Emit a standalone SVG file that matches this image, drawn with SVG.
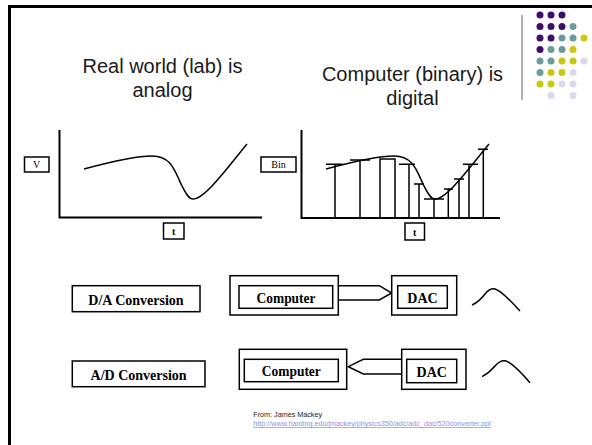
<svg xmlns="http://www.w3.org/2000/svg" width="592" height="445" viewBox="0 0 592 445">
<style>
.title{font-family:"Liberation Sans",Arial,sans-serif;font-size:20px;fill:#1a1a1a;text-anchor:middle}
.lab{font-family:"Liberation Serif","Times New Roman",serif;font-weight:bold;font-size:14px;fill:#000;text-anchor:middle}
.small{font-family:"Liberation Serif","Times New Roman",serif;font-size:10px;fill:#000;text-anchor:middle}
.box{fill:#fff;stroke:#000;stroke-width:1.5}
.ln{fill:none;stroke:#000;stroke-width:1.5}
.axis{fill:none;stroke:#000;stroke-width:2}
.p{fill:#3d0f6b}.t{fill:#6b9c9c}.y{fill:#c9c70f}.l{fill:#d9d9ec}
.cred{font-family:"Liberation Sans",Arial,sans-serif;font-size:7.2px}
</style>
<rect width="592" height="445" fill="#fff"/>
<g id="frame">
<path d="M8,6.5H592M9.5,5V445" fill="none" stroke="#000" stroke-width="3"/>
<line x1="522" y1="15" x2="522" y2="100" stroke="#999" stroke-width="1.5"/>
</g>
<g id="dots">
<circle class="p" cx="540" cy="15" r="3.5"/><circle class="p" cx="551" cy="15" r="3.5"/><circle class="p" cx="562" cy="15" r="3.5"/>
<circle class="p" cx="540" cy="26.5" r="3.5"/><circle class="p" cx="551" cy="26.5" r="3.5"/><circle class="p" cx="562" cy="26.5" r="3.5"/><circle class="t" cx="573" cy="26.5" r="3.5"/>
<circle class="p" cx="540" cy="38" r="3.5"/><circle class="p" cx="551" cy="38" r="3.5"/><circle class="t" cx="562" cy="38" r="3.5"/><circle class="t" cx="573" cy="38" r="3.5"/><circle class="y" cx="584" cy="38" r="3.5"/>
<circle class="p" cx="540" cy="49.5" r="3.5"/><circle class="t" cx="551" cy="49.5" r="3.5"/><circle class="t" cx="562" cy="49.5" r="3.5"/><circle class="y" cx="573" cy="49.5" r="3.5"/>
<circle class="t" cx="540" cy="61" r="3.5"/><circle class="t" cx="551" cy="61" r="3.5"/><circle class="y" cx="562" cy="61" r="3.5"/><circle class="y" cx="573" cy="61" r="3.5"/><circle class="l" cx="584" cy="61" r="3.5"/>
<circle class="t" cx="540" cy="72.5" r="3.5"/><circle class="y" cx="551" cy="72.5" r="3.5"/><circle class="y" cx="562" cy="72.5" r="3.5"/><circle class="l" cx="573" cy="72.5" r="3.5"/>
<circle class="y" cx="540" cy="84" r="3.5"/><circle class="y" cx="551" cy="84" r="3.5"/><circle class="l" cx="562" cy="84" r="3.5"/><circle class="l" cx="573" cy="84" r="3.5"/>
<circle class="l" cx="551" cy="95.5" r="3.5"/><circle class="l" cx="573" cy="95.5" r="3.5"/>
</g>
<g id="title-analog">
<text class="title" x="162.5" y="73">Real world (lab) is</text>
<text class="title" x="162.5" y="97">analog</text>
</g>
<g id="title-digital">
<text class="title" x="412.5" y="81">Computer (binary) is</text>
<text class="title" x="412.5" y="105">digital</text>
</g>
<g id="graph-analog">
<path class="axis" d="M59.5,130V217.5H262"/>
<path id="curve" class="ln" d="M84,169 C110,162 135,156 152,156 C172,156 175,172 182,186 C186,194 189,199 193,199 C205,199 228,167 247,144"/>
<rect class="box" x="24.5" y="157" width="24.5" height="15" stroke-width="1"/>
<text class="small" x="36.7" y="168">V</text>
<rect class="box" x="163.5" y="223" width="20.5" height="16" stroke-width="1.2"/>
<text class="small" x="173.7" y="235" font-weight="bold">t</text>
</g>
<g id="graph-digital">
<path class="axis" d="M301.5,130V218H500"/>
<path class="ln" transform="translate(242,0)" d="M84,169 C110,162 135,156 152,156 C172,156 175,172 182,186 C186,194 189,199 193,199 C205,199 228,167 247,144"/>
<path class="ln" d="M335,218V164.3M326,164.3H343 M360,218V160M350,160H370 M380,218V159H395V218 M409,218V164.3M399,164.3H415 M419,218V184M414,184H424 M434,218V199M424,199H444 M448.3,218V189M444,189H453 M459,218V179M454,179H464 M469,218V164.3M463,164.3H478 M483.3,218V149.3M478,149.3H488"/>
<rect class="box" x="261" y="157" width="35" height="15" stroke-width="1"/>
<text class="small" x="278.5" y="168">Bin</text>
<rect class="box" x="405" y="223" width="19.5" height="17" stroke-width="1.2"/>
<text class="small" x="414.7" y="235.5" font-weight="bold">t</text>
</g>
<g id="connectors">
<path class="ln" fill="#fff" d="M338.3,285.7H379.3L391.7,293L379.3,300H338.3"/>
<path class="ln" fill="#fff" d="M401.7,359.3H363.3L348.3,366.7L363.3,374H401.7"/>
</g>
<g id="da-label">
<rect class="box" x="72.3" y="285.7" width="127.7" height="26"/>
<text class="lab" x="136" y="304.5" font-size="16">D/A Conversion</text>
</g>
<g id="da-computer">
<rect class="box" x="230" y="275.7" width="108.3" height="39.3"/>
<rect class="box" x="239" y="285.7" width="93.7" height="22.6"/>
<text class="lab" x="286" y="302.5" font-size="15" textLength="59" lengthAdjust="spacingAndGlyphs">Computer</text>
</g>
<g id="da-dac">
<rect class="box" x="391.7" y="275.7" width="65" height="39.3"/>
<rect class="box" x="397.7" y="285.7" width="49.6" height="22.6"/>
<text class="lab" x="422.5" y="302.5" font-size="15">DAC</text>
<path class="ln" d="M472,305 Q479,302 485,294 Q490,288 495,289 Q502,291 520,311"/>
</g>
<g id="ad-label">
<rect class="box" x="72.3" y="361" width="132.7" height="25.7"/>
<text class="lab" x="138.6" y="380" font-size="16">A/D Conversion</text>
</g>
<g id="ad-computer">
<rect class="box" x="239.3" y="349.3" width="107.4" height="40"/>
<rect class="box" x="244.3" y="359.3" width="94" height="22.4"/>
<text class="lab" x="291.3" y="376" font-size="15" textLength="59" lengthAdjust="spacingAndGlyphs">Computer</text>
</g>
<g id="ad-dac">
<rect class="box" x="401.7" y="349.3" width="64.3" height="40"/>
<rect class="box" x="406.7" y="359.3" width="50" height="23.4"/>
<text class="lab" x="431.7" y="376.5" font-size="15">DAC</text>
<path class="ln" d="M482,376.7 Q489,373 495,366 Q500,360 505,360.7 Q512,362 530,382.7"/>
</g>
<g id="credit">
<text class="cred" x="253.3" y="417.3" fill="#222">From: James Mackey</text>
<text class="cred" x="253.3" y="426" fill="#8f8fe6" text-decoration="underline">http://www.harding.edu/jmackey/physics350/adc/adc_dac/520converter.ppt</text>
</g>
</svg>
